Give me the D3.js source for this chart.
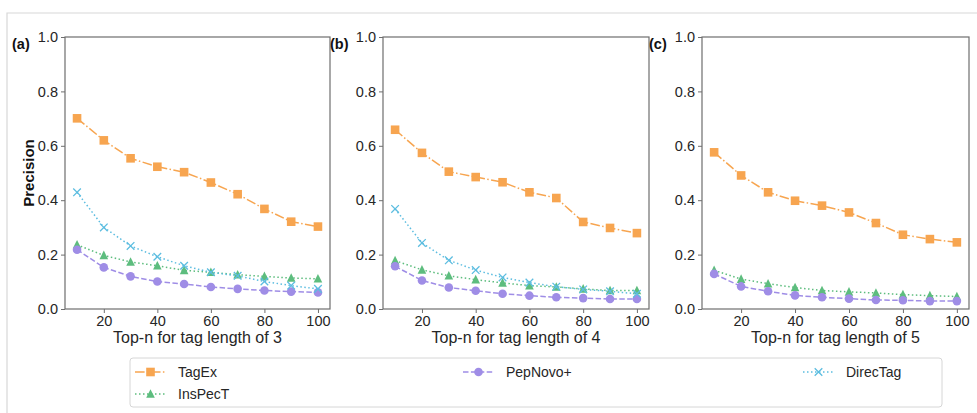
<!DOCTYPE html>
<html>
<head>
<meta charset="utf-8">
<script src="https://cdn.jsdelivr.net/npm/d3@7"></script>
<style>
  body { margin: 0; background: #fff; }
  svg { display: block; font-family: "Liberation Sans", Arial, sans-serif; }
</style>
</head>
<body>
<svg id="chart" width="977" height="413"></svg>
<script>
// top-n values on the x axis
const topN = [10, 20, 30, 40, 50, 60, 70, 80, 90, 100];
const xTicks = [20, 40, 60, 80, 100];
const yTicks = [0, 0.2, 0.4, 0.6, 0.8, 1.0];

const panelNames = ['(a)', '(b)', '(c)'];
const xLabels = ['Top-n for tag length of 3', 'Top-n for tag length of 4', 'Top-n for tag length of 5'];

// tag length 3
const tagexA    = [0.701, 0.620, 0.554, 0.523, 0.503, 0.465, 0.422, 0.368, 0.321, 0.303];
const inspectA  = [0.236, 0.197, 0.173, 0.159, 0.142, 0.135, 0.126, 0.120, 0.114, 0.111];
const pepnovoA  = [0.218, 0.153, 0.120, 0.101, 0.092, 0.081, 0.074, 0.068, 0.064, 0.061];
const directagA = [0.429, 0.300, 0.232, 0.192, 0.159, 0.135, 0.122, 0.101, 0.086, 0.074];

// tag length 4
const tagexB    = [0.659, 0.574, 0.505, 0.485, 0.466, 0.429, 0.408, 0.320, 0.298, 0.279];
const inspectB  = [0.178, 0.144, 0.122, 0.108, 0.096, 0.086, 0.081, 0.074, 0.068, 0.068];
const pepnovoB  = [0.157, 0.105, 0.079, 0.067, 0.056, 0.049, 0.043, 0.040, 0.037, 0.037];
const directagB = [0.368, 0.243, 0.179, 0.143, 0.116, 0.097, 0.082, 0.072, 0.065, 0.056];

// tag length 5 (no DirecTag curve visible)
const tagexC    = [0.576, 0.491, 0.429, 0.398, 0.380, 0.355, 0.316, 0.273, 0.257, 0.245];
const inspectC  = [0.142, 0.110, 0.093, 0.079, 0.068, 0.063, 0.059, 0.053, 0.049, 0.046];
const pepnovoC  = [0.129, 0.083, 0.065, 0.050, 0.043, 0.038, 0.033, 0.032, 0.029, 0.029];
const directagC = null;

const seriesNames = ['TagEx', 'InsPecT', 'PepNovo+', 'DirecTag'];

const styles = {
    'TagEx':    { color: '#f7a550', dash: '9.6,2.4,1.5,2.4', marker: 'square' },
    'InsPecT':  { color: '#5dbd7e', dash: '1.5,2.5', marker: 'triangle' },
    'PepNovo+': { color: '#9f8de6', dash: '5.5,2.4', marker: 'circle' },
    'DirecTag': { color: '#5cbde0', dash: '1.5,2.5', marker: 'x' }
};

const panels = [
    { left: 65,  right: 330, data: { 'TagEx': tagexA, 'InsPecT': inspectA, 'PepNovo+': pepnovoA, 'DirecTag': directagA } },
    { left: 383, right: 649, data: { 'TagEx': tagexB, 'InsPecT': inspectB, 'PepNovo+': pepnovoB, 'DirecTag': directagB } },
    { left: 702, right: 969, data: { 'TagEx': tagexC, 'InsPecT': inspectC, 'PepNovo+': pepnovoC, 'DirecTag': directagC } }
];

const plotTop = 37, plotBottom = 309;
const svg = d3.select('#chart');

// faint outer frame of the figure
svg.append('path')
    .attr('d', 'M7,413 V13 H977')
    .attr('fill', 'none')
    .attr('stroke', '#d8d8d8')
    .attr('stroke-width', 1.2);

function drawMarker(g, type, x, y, color) {
    const s = 4.3;
    if (type === 'square') {
        g.append('rect').attr('x', x - s).attr('y', y - s).attr('width', 2 * s).attr('height', 2 * s)
            .attr('fill', color);
    } else if (type === 'circle') {
        g.append('circle').attr('cx', x).attr('cy', y).attr('r', s).attr('fill', color);
    } else if (type === 'triangle') {
        g.append('path').attr('d', `M${x},${y - s - 0.5} L${x + s},${y + s - 0.5} L${x - s},${y + s - 0.5} Z`)
            .attr('fill', color);
    } else if (type === 'x') {
        const r = 3.8;
        g.append('path').attr('d', `M${x - r},${y - r} L${x + r},${y + r} M${x - r},${y + r} L${x + r},${y - r}`)
            .attr('stroke', color).attr('stroke-width', 1.3).attr('fill', 'none');
    }
}

panels.forEach((p, i) => {
    const xScale = d3.scaleLinear().domain([5.5, 104.5]).range([p.left, p.right]);
    const yScale = d3.scaleLinear().domain([0, 1]).range([plotBottom, plotTop]);
    const g = svg.append('g');

    const line = d3.line().x((d, k) => xScale(topN[k])).y(d => yScale(d));

    seriesNames.forEach(name => {
        const vals = p.data[name];
        if (!vals) return;
        const st = styles[name];
        g.append('path')
            .datum(vals)
            .attr('d', line)
            .attr('fill', 'none')
            .attr('stroke', st.color)
            .attr('stroke-width', 1.5)
            .attr('stroke-dasharray', st.dash);
        vals.forEach((v, k) => drawMarker(g, st.marker, xScale(topN[k]), yScale(v), st.color));
    });

    // frame
    g.append('rect')
        .attr('x', p.left).attr('y', plotTop)
        .attr('width', p.right - p.left).attr('height', plotBottom - plotTop)
        .attr('fill', 'none').attr('stroke', '#6e6e6e').attr('stroke-width', 1.2);

    const xAxis = svg.append('g')
        .attr('transform', `translate(0,${plotBottom})`)
        .call(d3.axisBottom(xScale).tickValues(xTicks).tickSize(4).tickPadding(3).tickFormat(d3.format('d')));
    const yAxis = svg.append('g')
        .attr('transform', `translate(${p.left},0)`)
        .call(d3.axisLeft(yScale).tickValues(yTicks).tickSize(4).tickPadding(3).tickFormat(d3.format('.1f')));

    [xAxis, yAxis].forEach(ax => {
        ax.select('.domain').remove();
        ax.selectAll('line').attr('stroke', '#6e6e6e');
        ax.selectAll('text').attr('fill', '#262626').style('font-size', '14.5px')
            .style('font-family', '"Liberation Sans", Arial, sans-serif');
    });

    svg.append('text')
        .attr('x', (p.left + p.right) / 2).attr('y', 343)
        .attr('text-anchor', 'middle')
        .attr('fill', '#262626')
        .style('font-size', '16px')
        .text(xLabels[i]);

    svg.append('text')
        .attr('x', p.left - 53).attr('y', 49)
        .attr('fill', '#111')
        .style('font-size', '14.5px').style('font-weight', 'bold')
        .text(panelNames[i]);
});

svg.append('text')
    .attr('transform', 'translate(34,173) rotate(-90)')
    .attr('text-anchor', 'middle')
    .attr('fill', '#111')
    .style('font-size', '15px').style('font-weight', 'bold')
    .text('Precision');

// legend, 3 columns filled column-wise
const legend = svg.append('g');
legend.append('rect')
    .attr('x', 130).attr('y', 358).attr('width', 812).attr('height', 49)
    .attr('rx', 3).attr('fill', '#fff').attr('stroke', '#d6d6d6');

const legendPos = {
    'TagEx':    { x: 135, y: 372 },
    'InsPecT':  { x: 135, y: 394 },
    'PepNovo+': { x: 463, y: 372 },
    'DirecTag': { x: 803, y: 372 }
};

seriesNames.forEach(name => {
    const st = styles[name];
    const pos = legendPos[name];
    legend.append('line')
        .attr('x1', pos.x).attr('x2', pos.x + 31)
        .attr('y1', pos.y).attr('y2', pos.y)
        .attr('stroke', st.color).attr('stroke-width', 1.5)
        .attr('stroke-dasharray', st.dash);
    drawMarker(legend, st.marker, pos.x + 15.5, pos.y, st.color);
    legend.append('text')
        .attr('x', pos.x + 43).attr('y', pos.y + 5)
        .attr('fill', '#262626')
        .style('font-size', '14px')
        .text(name);
});
</script>
</body>
</html>
